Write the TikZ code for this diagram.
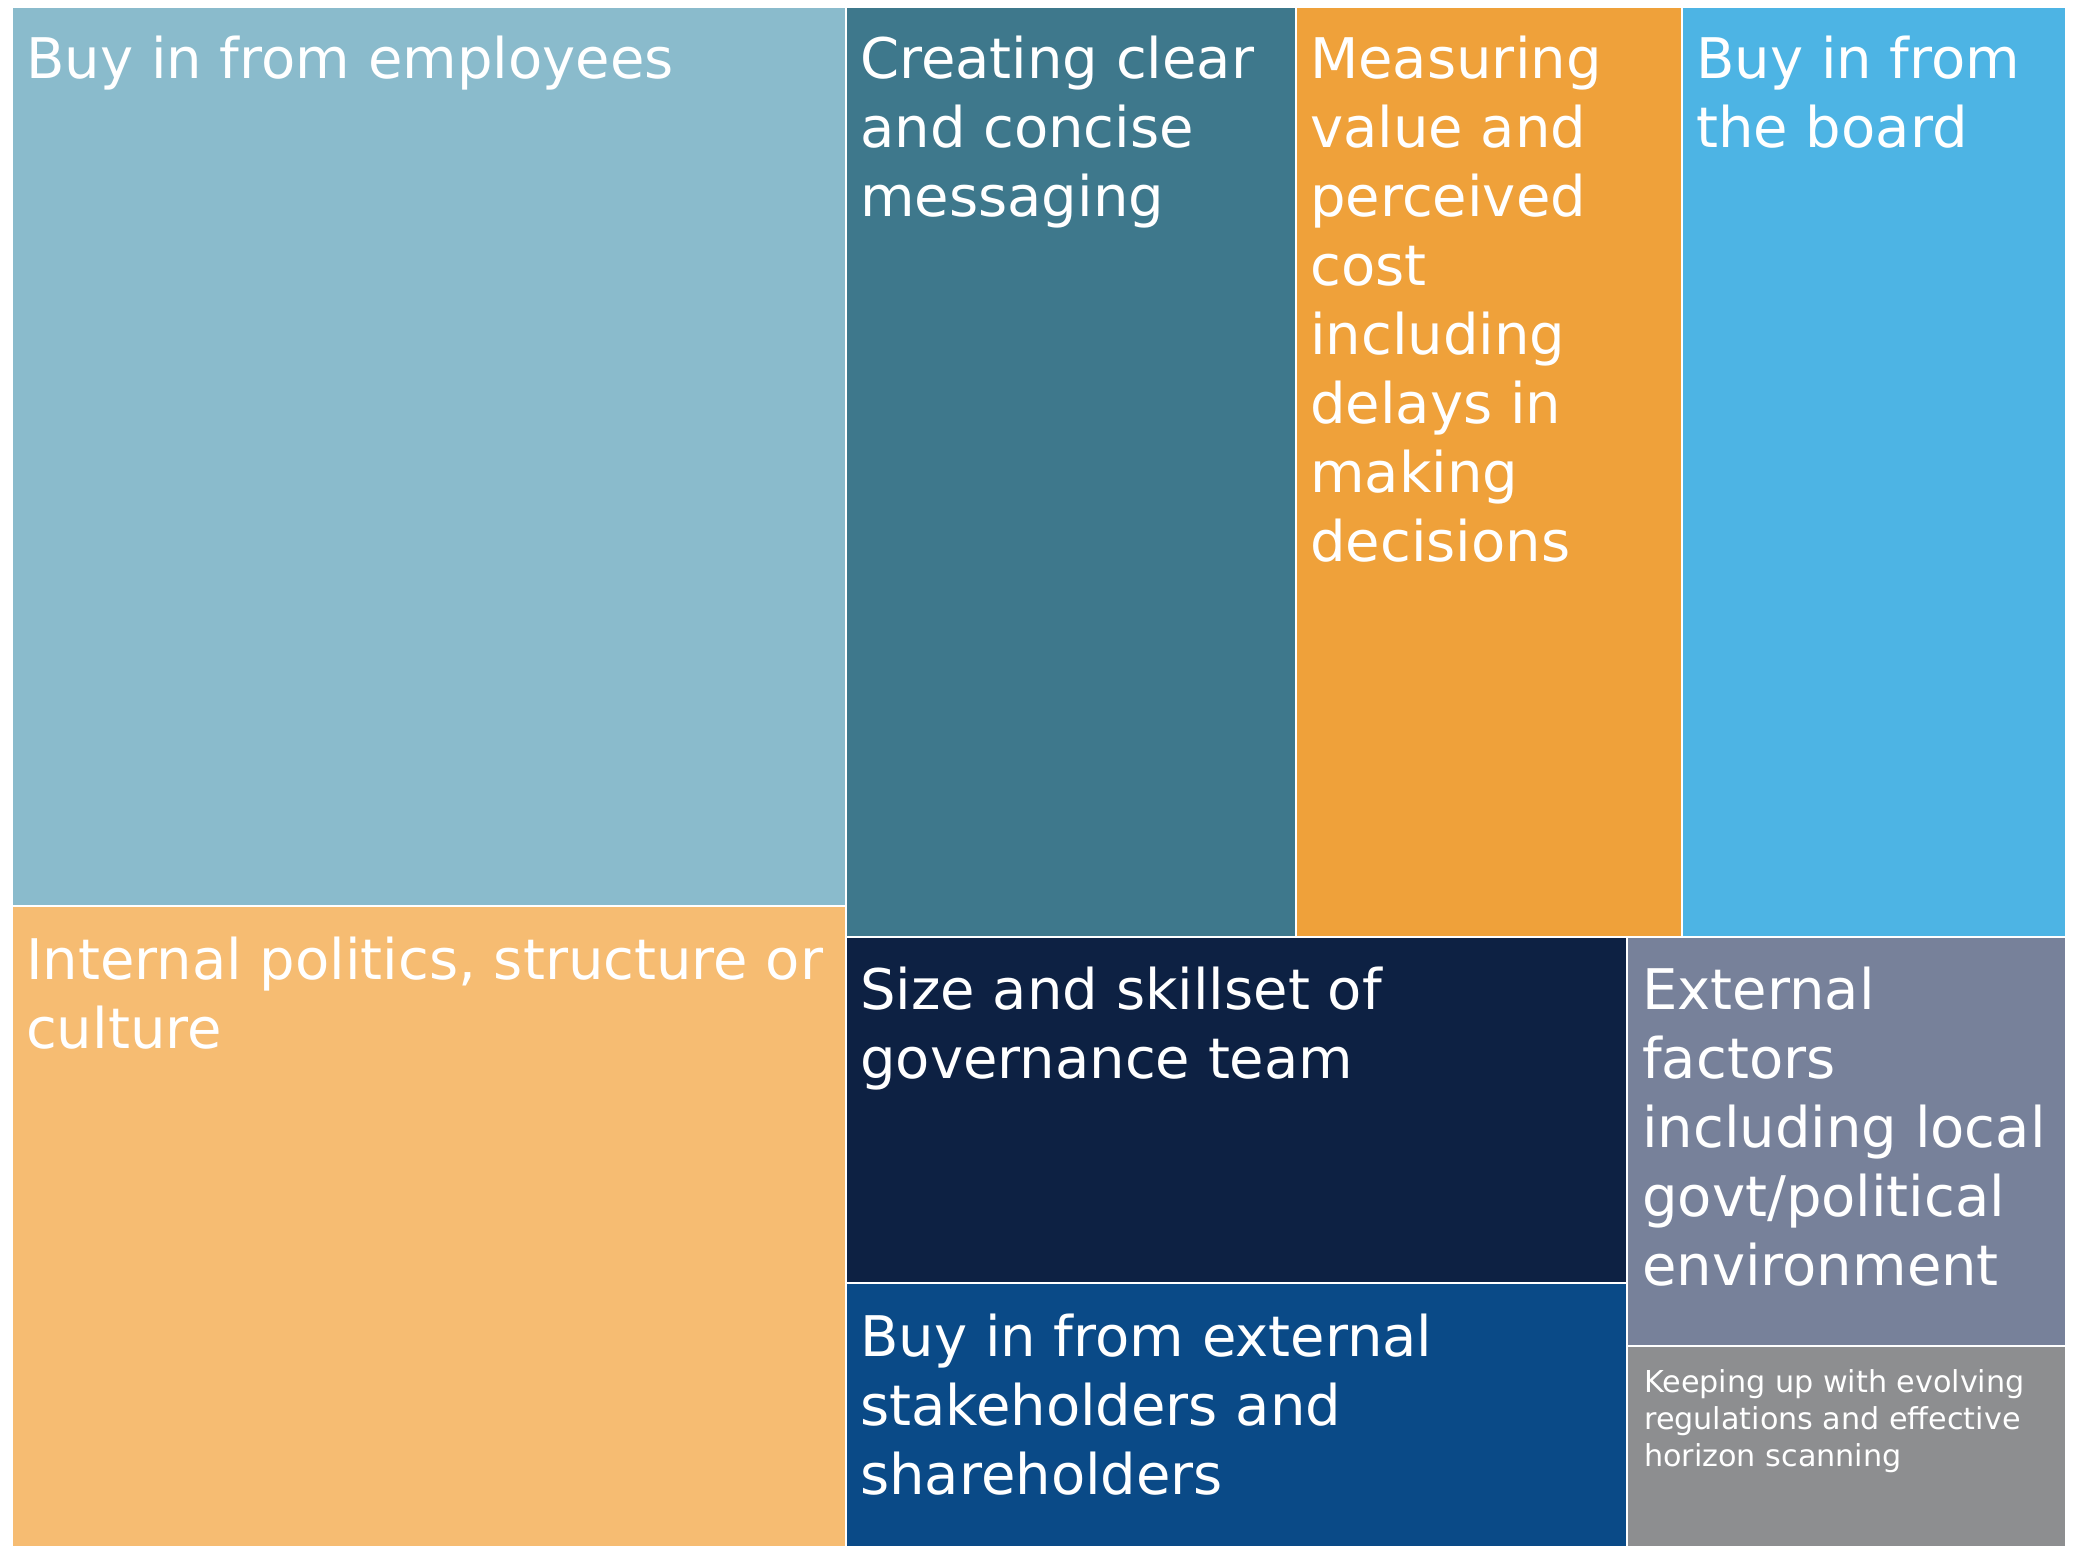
\documentclass[tikz,border=0pt]{standalone}
\usepackage{fontspec}
\setmainfont{DejaVu Sans}
\definecolor{cA}{HTML}{8ABBCC}
\definecolor{cB}{HTML}{F6BC72}
\definecolor{cC}{HTML}{3E788C}
\definecolor{cD}{HTML}{EFA13A}
\definecolor{cE}{HTML}{4DB4E4}
\definecolor{cF}{HTML}{0D2143}
\definecolor{cG}{HTML}{0A4A87}
\definecolor{cH}{HTML}{77819A}
\definecolor{cI}{HTML}{8D8E90}
\tikzset{
  cell/.style={draw=white, line width=2.5pt},
  biglabel/.style={anchor=base west, inner sep=0pt, text=white,
    font=\fontsize{56}{69}\selectfont},
  smalllabel/.style={anchor=base west, inner sep=0pt, text=white,
    font=\fontsize{30.2}{37}\selectfont},
}
\newcommand{\lbl}[1]{\parbox[t]{1000pt}{\raggedright #1}}
\begin{document}
\begin{tikzpicture}[x=1pt,y=-1pt]
\useasboundingbox (0,0) rectangle (2074,1546);
\fill[white] (0,0) rectangle (2074,1546);
\path[cell, fill=cA] (12,7) rectangle (846,906);
\path[cell, fill=cB] (12,906) rectangle (846,1548);
\path[cell, fill=cC] (846,7) rectangle (1296,937);
\path[cell, fill=cD] (1296,7) rectangle (1682,937);
\path[cell, fill=cE] (1682,7) rectangle (2066,937);
\path[cell, fill=cF] (846,937) rectangle (1627,1283);
\path[cell, fill=cG] (846,1283) rectangle (1627,1548);
\path[cell, fill=cH] (1627,937) rectangle (2066,1346);
\path[cell, fill=cI] (1627,1346) rectangle (2066,1548);

\node[biglabel] (tA) at (26,79) {\lbl{Buy in from employees}};
\node[biglabel] (tB) at (26,979) {\lbl{Internal politics, structure or\\culture}};
\node[biglabel] (tC) at (860,79) {\lbl{Creating clear\\and concise\\messaging}};
\node[biglabel] (tD) at (1310,79) {\lbl{Measuring\\value and\\perceived\\cost\\including\\delays in\\making\\decisions}};
\node[biglabel] (tE) at (1696,79) {\lbl{Buy in from\\the board}};
\node[biglabel] (tF) at (860,1009) {\lbl{Size and skillset of\\governance team}};
\node[biglabel] (tG) at (860,1356) {\lbl{Buy in from external\\stakeholders and\\shareholders}};
\node[biglabel] (tH) at (1642,1009) {\lbl{External\\factors\\including local\\govt/political\\environment}};
\node[smalllabel] (tI) at (1644,1392) {\lbl{Keeping up with evolving\\regulations and effective\\horizon scanning}};
\end{tikzpicture}
\end{document}
